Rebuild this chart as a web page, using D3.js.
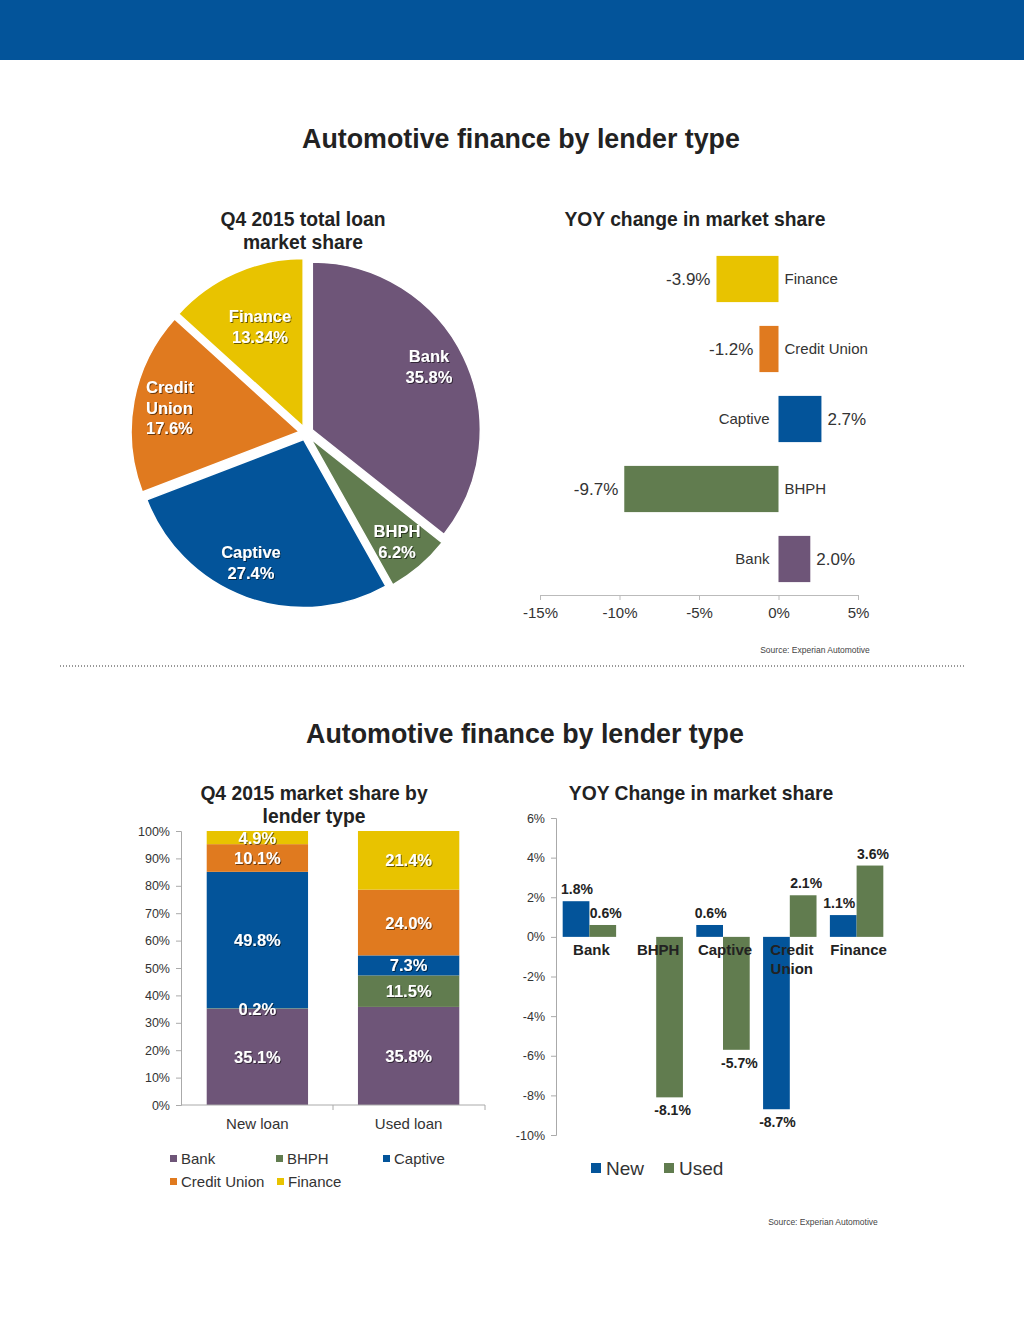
<!DOCTYPE html>
<html>
<head>
<meta charset="utf-8">
<script src="https://cdn.jsdelivr.net/npm/d3@7"></script>
<style>
body { margin:0; background:#fff; }
svg text { font-family: "Liberation Sans", Arial, sans-serif; }
</style>
</head>
<body>
<script>
// ---- data ----
var lenders = ["Bank", "BHPH", "Captive", "Credit Union", "Finance"];
var lenderColors = ["#6e5578", "#617c4f", "#03549a", "#e07a1f", "#e8c300"];

var pieShare = [35.8, 6.2, 27.4, 17.6, 13.34];
var pieLabels = [["Bank", "35.8%"], ["BHPH", "6.2%"], ["Captive", "27.4%"], ["Credit", "Union", "17.6%"], ["Finance", "13.34%"]];

var yoyCats = ["Finance", "Credit Union", "Captive", "BHPH", "Bank"];
var yoyVals = [-3.9, -1.2, 2.7, -9.7, 2.0];
var yoyColors = ["#e8c300", "#e07a1f", "#03549a", "#617c4f", "#6e5578"];
var yoyTicks = [-15, -10, -5, 0, 5];

var loanTypes = ["New loan", "Used loan"];
var newShare = [35.1, 0.2, 49.8, 10.1, 4.9];
var usedShare = [35.8, 11.5, 7.3, 24.0, 21.4];
var shareTicks = [0, 10, 20, 30, 40, 50, 60, 70, 80, 90, 100];

var yoyNew = [1.8, null, 0.6, -8.7, 1.1];
var yoyUsed = [0.6, -8.1, -5.7, 2.1, 3.6];
var groupTicks = [6, 4, 2, 0, -2, -4, -6, -8, -10];
var groupColors = ["#03549a", "#617c4f"];

var W = 1024, H = 1325;
var svg = d3.select("body").append("svg").attr("width", W).attr("height", H);

// shadow for white labels
var defs = svg.append("defs");
var f = defs.append("filter").attr("id", "sh").attr("x", "-20%").attr("y", "-20%").attr("width", "140%").attr("height", "140%");
f.append("feDropShadow").attr("dx", 1).attr("dy", 1).attr("stdDeviation", 0.6).attr("flood-color", "#000").attr("flood-opacity", 0.55);

// header band
svg.append("rect").attr("x", 0).attr("y", 0).attr("width", W).attr("height", 60).attr("fill", "#03549a");

function title(x, y, lines, size) {
    var t = svg.append("text").attr("x", x).attr("y", y).attr("text-anchor", "middle")
        .attr("font-size", size).attr("font-weight", "bold").attr("fill", "#222");
    lines.forEach(function(l, i) {
        t.append("tspan").attr("x", x).attr("dy", i == 0 ? 0 : size * 1.2).text(l);
    });
}

title(521, 148, ["Automotive finance by lender type"], 26.8);
title(525, 743, ["Automotive finance by lender type"], 26.8);

// ---- pie ----
title(303, 226, ["Q4 2015 total loan", "market share"], 19.3);
var pcx = 306, pcy = 433, pr = 168;
var pie = d3.pie().sort(null).value(function(d) { return d; });
var arcs = pie(pieShare);
var arc = d3.arc().innerRadius(0).outerRadius(pr);
var explode = 7;
var pg = svg.append("g").attr("transform", "translate(" + pcx + "," + pcy + ")");
var labelPos = [[429, 356], [397, 531], [251, 552], [146, 387], [260, 316]];

pg.selectAll("path").data(arcs).enter().append("path")
    .attr("d", arc)
    .attr("fill", function(d, i) { return lenderColors[i]; })
    .attr("stroke", "#fff").attr("stroke-width", 1.5)
    .attr("transform", function(d) {
        var a = (d.startAngle + d.endAngle) / 2;
        return "translate(" + (Math.sin(a) * explode) + "," + (-Math.cos(a) * explode) + ")";
    });

arcs.forEach(function(d, i) {
    var anchor = i == 3 ? "start" : "middle";
    var t = svg.append("text").attr("x", labelPos[i][0]).attr("y", labelPos[i][1] + 6)
        .attr("text-anchor", anchor).attr("font-size", 16.5).attr("font-weight", "bold")
        .attr("fill", "#fff").attr("filter", "url(#sh)");
    pieLabels[i].forEach(function(l, j) {
        t.append("tspan").attr("x", labelPos[i][0]).attr("dy", j == 0 ? 0 : 20.5).text(l);
    });
});

// ---- horizontal yoy bars ----
title(695, 226, ["YOY change in market share"], 19.3);
var hx = d3.scaleLinear().domain([-15, 5]).range([540, 858]);
var hy = d3.scaleBand().domain(yoyCats).range([244, 594]).paddingInner(0.34).paddingOuter(0.17);

var hg = svg.append("g");
hg.selectAll("rect").data(yoyVals).enter().append("rect")
    .attr("x", function(d) { return hx(Math.min(0, d)); })
    .attr("y", function(d, i) { return hy(yoyCats[i]); })
    .attr("width", function(d) { return Math.abs(hx(d) - hx(0)); })
    .attr("height", hy.bandwidth())
    .attr("fill", function(d, i) { return yoyColors[i]; });

yoyVals.forEach(function(d, i) {
    var cy = hy(yoyCats[i]) + hy.bandwidth() / 2 + 6;
    var neg = d < 0;
    svg.append("text").attr("x", neg ? hx(d) - 6 : hx(d) + 6).attr("y", cy)
        .attr("text-anchor", neg ? "end" : "start").attr("font-size", 17).attr("fill", "#333")
        .text(d.toFixed(1) + "%");
    svg.append("text").attr("x", neg ? hx(0) + 6 : hx(0) - 9).attr("y", cy - 1)
        .attr("text-anchor", neg ? "start" : "end").attr("font-size", 15).attr("fill", "#333")
        .text(yoyCats[i]);
});

var hAxis = svg.append("g").attr("transform", "translate(0,595)")
    .call(d3.axisBottom(hx).tickValues(yoyTicks).tickSize(5).tickPadding(7).tickFormat(function(d) { return d + "%"; }));
hAxis.select(".domain").attr("stroke", "#bbb");
hAxis.selectAll(".tick line").attr("stroke", "#bbb");
hAxis.selectAll(".tick text").attr("font-size", 15).attr("fill", "#333").attr("font-family", "Liberation Sans, Arial, sans-serif");

svg.append("text").attr("x", 815).attr("y", 653).attr("text-anchor", "middle").attr("font-size", 8.5).attr("fill", "#444").text("Source: Experian Automotive");

// dotted divider
svg.append("line").attr("x1", 60).attr("x2", 965).attr("y1", 666).attr("y2", 666)
    .attr("stroke", "#333").attr("stroke-width", 1.2).attr("stroke-dasharray", "1,2");

// ---- stacked bars ----
title(314, 800, ["Q4 2015 market share by", "lender type"], 19.3);
var sy = d3.scaleLinear().domain([0, 100]).range([1105, 831]);
var sx = d3.scaleBand().domain(loanTypes).range([181, 485]).paddingInner(0.33).paddingOuter(0.17);

var sAxis = svg.append("g").attr("transform", "translate(181,0)")
    .call(d3.axisLeft(sy).tickValues(shareTicks).tickSize(5).tickPadding(6).tickFormat(function(d) { return d + "%"; }));
sAxis.select(".domain").attr("stroke", "#aaa");
sAxis.selectAll(".tick line").attr("stroke", "#aaa");
sAxis.selectAll(".tick text").attr("font-size", 12.5).attr("fill", "#333").attr("font-family", "Liberation Sans, Arial, sans-serif");

[newShare, usedShare].forEach(function(vals, k) {
    var base = 0;
    var x0 = sx(loanTypes[k]);
    vals.forEach(function(v, i) {
        var top = Math.min(100, base + v);
        svg.append("rect").attr("x", x0).attr("y", sy(top)).attr("width", sx.bandwidth())
            .attr("height", sy(base) - sy(top)).attr("fill", lenderColors[i]);
        base = base + v;
    });
});
[newShare, usedShare].forEach(function(vals, k) {
    var base = 0;
    var cx = sx(loanTypes[k]) + sx.bandwidth() / 2;
    vals.forEach(function(v, i) {
        var top = Math.min(100, base + v);
        svg.append("text").attr("x", cx).attr("y", (sy(base) + sy(top)) / 2 + 6)
            .attr("text-anchor", "middle").attr("font-size", 16.5).attr("font-weight", "bold")
            .attr("fill", "#fff").attr("filter", "url(#sh)").text(v.toFixed(1) + "%");
        base = base + v;
    });
});

// x axis of stacked chart
svg.append("line").attr("x1", 181).attr("x2", 485).attr("y1", 1105).attr("y2", 1105).attr("stroke", "#aaa");
[333, 485].forEach(function(x) {
    svg.append("line").attr("x1", x).attr("x2", x).attr("y1", 1105).attr("y2", 1110).attr("stroke", "#aaa");
});
loanTypes.forEach(function(c) {
    svg.append("text").attr("x", sx(c) + sx.bandwidth() / 2).attr("y", 1129).attr("text-anchor", "middle")
        .attr("font-size", 15).attr("fill", "#333").text(c);
});

// legend
var legPos = [[170, 1159], [276, 1159], [383, 1159], [170, 1182], [277, 1182]];
lenders.forEach(function(l, i) {
    svg.append("rect").attr("x", legPos[i][0]).attr("y", legPos[i][1] - 4).attr("width", 7).attr("height", 7).attr("fill", lenderColors[i]);
    svg.append("text").attr("x", legPos[i][0] + 11).attr("y", legPos[i][1] + 5).attr("font-size", 15).attr("fill", "#333").text(l);
});

// ---- grouped yoy bars ----
title(701, 800, ["YOY Change in market share"], 19.3);
var gy = d3.scaleLinear().domain([-10, 6]).range([1135, 818]);
var gx = d3.scaleBand().domain(lenders).range([556, 890]).paddingInner(0.2).paddingOuter(0.1);
var gx1 = d3.scaleBand().domain(["New", "Used"]).range([0, gx.bandwidth()]);

var gAxis = svg.append("g").attr("transform", "translate(556,0)")
    .call(d3.axisLeft(gy).tickValues(groupTicks).tickSize(5).tickPadding(6).tickFormat(function(d) { return d + "%"; }));
gAxis.select(".domain").attr("stroke", "#aaa");
gAxis.selectAll(".tick line").attr("stroke", "#aaa");
gAxis.selectAll(".tick text").attr("font-size", 12.5).attr("fill", "#333").attr("font-family", "Liberation Sans, Arial, sans-serif");

[yoyNew, yoyUsed].forEach(function(vals, k) {
    var key = k == 0 ? "New" : "Used";
    vals.forEach(function(v, i) {
        if (v == null) return;
        var x = gx(lenders[i]) + gx1(key);
        svg.append("rect").attr("x", x).attr("y", gy(Math.max(0, v)))
            .attr("width", gx1.bandwidth()).attr("height", Math.abs(gy(v) - gy(0)))
            .attr("fill", groupColors[k]);
    });
});

// category labels over the bars
lenders.forEach(function(l, i) {
    var cx = gx(l) + gx.bandwidth() / 2;
    var parts = l == "Credit Union" ? ["Credit", "Union"] : [l];
    var t = svg.append("text").attr("x", cx + 2).attr("y", 955).attr("text-anchor", "middle")
        .attr("font-size", 15).attr("font-weight", "bold").attr("fill", "#222");
    parts.forEach(function(p, j) {
        t.append("tspan").attr("x", cx + 2).attr("dy", j == 0 ? 0 : 19).text(p);
    });
});

[yoyNew, yoyUsed].forEach(function(vals, k) {
    var key = k == 0 ? "New" : "Used";
    vals.forEach(function(v, i) {
        if (v == null) return;
        var cx = gx(lenders[i]) + gx1(key) + gx1.bandwidth() / 2 + (k == 0 ? 1 : 3);
        if (k == 0 && i == 4) cx = cx - 5;   // keep 1.1% clear of the next bar
        var y = v >= 0 ? gy(v) - 7 : gy(v) + 18;
        svg.append("text").attr("x", cx).attr("y", y).attr("text-anchor", "middle")
            .attr("font-size", 14).attr("font-weight", "bold").attr("fill", "#222")
            .text((v < 0 ? "-" : "") + Math.abs(v).toFixed(1) + "%");
    });
});

// legend
["New", "Used"].forEach(function(l, i) {
    var x = i == 0 ? 591 : 664;
    svg.append("rect").attr("x", x).attr("y", 1163).attr("width", 10).attr("height", 10).attr("fill", groupColors[i]);
    svg.append("text").attr("x", x + 15).attr("y", 1175).attr("font-size", 19).attr("fill", "#333").text(l);
});

svg.append("text").attr("x", 823).attr("y", 1225).attr("text-anchor", "middle").attr("font-size", 8.5).attr("fill", "#444").text("Source: Experian Automotive");
</script>
</body>
</html>
